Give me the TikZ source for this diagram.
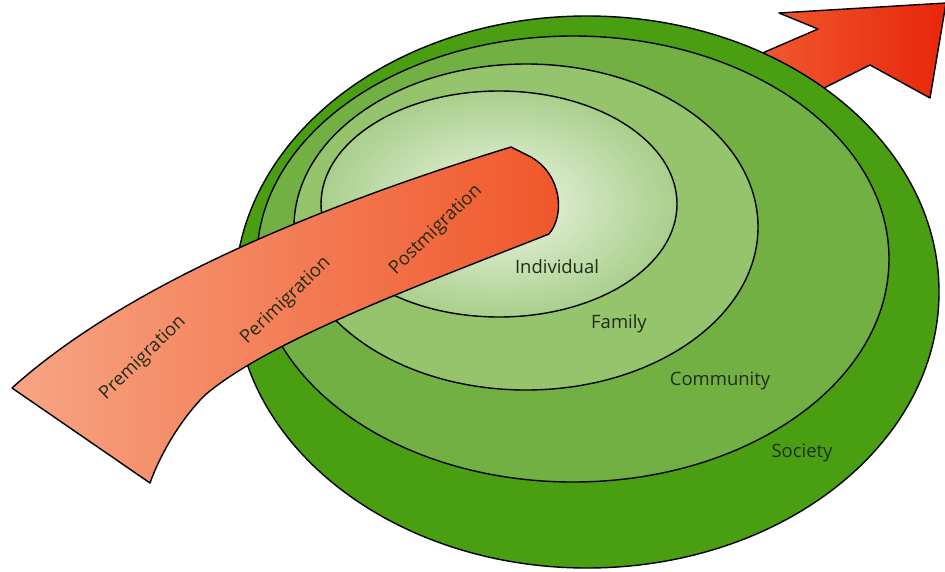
\documentclass[tikz,border=0pt]{standalone}
\usepackage{fontspec}
\setmainfont{Open Sans}
\definecolor{socgreen}{HTML}{4A9E12}
\definecolor{comgreen}{HTML}{72B043}
\definecolor{famgreen}{HTML}{95C46C}
\definecolor{indin}{HTML}{F0F7E8}
\definecolor{indout}{HTML}{A9CF8C}
\definecolor{lbl}{HTML}{1F2D15}
\definecolor{pathleft}{HTML}{F7A584}
\definecolor{pathright}{HTML}{F0562A}
\definecolor{outleft}{HTML}{F26A3D}
\definecolor{outright}{HTML}{E8260A}
\begin{document}
\begin{tikzpicture}[x=0.02cm, y=-0.02cm, line width=0.8pt, line join=round,
  ring/.style={draw=black},
  lvl/.style={text=lbl, font=\fontsize{10.5}{12}\selectfont},
  phase/.style={text=lbl, font=\fontsize{10.5}{12}\selectfont, rotate=44}]
\useasboundingbox (0,0) rectangle (945,571);
\clip (0,0) rectangle (945,571);
\coordinate (csoc) at (587,292);
\coordinate (ccom) at (573,259);
\coordinate (cfam) at (526,227);
\coordinate (cind) at (499,204);
\draw[left color=outleft, right color=outright] (700,80) -- (818,29) -- (779,13) -- (946,3) -- (930,98) -- (870,65) -- (760,120) -- cycle;
\filldraw[fill=socgreen, ring] (csoc) ellipse [x radius=352, y radius=276];
\filldraw[fill=comgreen, ring] (ccom) ellipse [x radius=316, y radius=223];
\filldraw[fill=famgreen, ring] (cfam) ellipse [x radius=232, y radius=163];
\shade[inner color=indin, outer color=indout] (cind) ellipse [x radius=178, y radius=113];
\draw (cind) ellipse [x radius=178, y radius=113];
\draw[left color=pathleft, right color=pathright] (12,388) .. controls (115,295) and (290,215) .. (511,147) -- (531,157) .. controls (562,175) and (565,215) .. (549,234) .. controls (420,285) and (270,340) .. (205,395) .. controls (180,420) and (160,455) .. (150,483) -- cycle;
\node[lvl] (individual) at (557,267) {Individual};
\node[lvl] (family) at (619,324) {Family};
\node[lvl] (community) at (720,381) {Community};
\node[lvl] (society) at (802,453) {Society};
\node[phase] (pre) at (143,358) {Premigration};
\node[phase] (peri) at (286,301) {Perimigration};
\node[phase] (post) at (436,230) {Postmigration};
\end{tikzpicture}
\end{document}
